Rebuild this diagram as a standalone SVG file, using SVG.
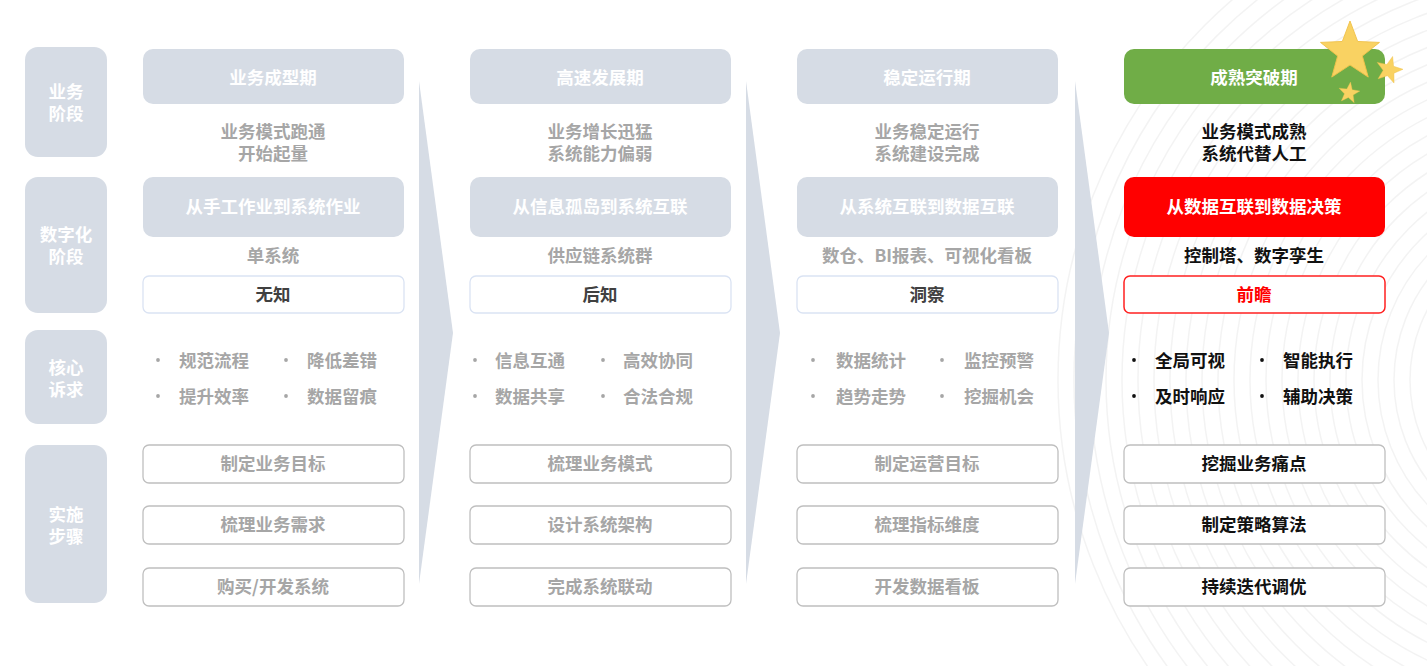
<svg xmlns="http://www.w3.org/2000/svg" width="1427" height="666" viewBox="0 0 1427 666">
<style>
text{font-family:"Noto Sans CJK SC","Noto Sans",sans-serif;font-weight:bold;font-size:17.5px;text-anchor:middle;dominant-baseline:central}
.lbl{fill:#d6dce5}
.lt{fill:#ffffff}
.hd{fill:#d6dce5}
.ht{fill:#ffffff}
.gt{fill:#a6a6a6}
.dk{fill:#404040}
.bk{fill:#111111}
.ob{fill:#ffffff;stroke:#dae3f3;stroke-width:1.3}
.sb{fill:#ffffff;stroke:#bfbfbf;stroke-width:1.3}
.bl{text-anchor:start}
.chev{fill:#d6dce5}
.arc{fill:none;stroke:#f0f0f0;stroke-width:1.5}
.star{fill:#f9d262;stroke:#f0c24a;stroke-width:0.3}
</style>
<defs>
<clipPath id="bgclip"><rect x="1040" y="0" width="387" height="666"/></clipPath>
<polygon id="starshape" points="0,-10 2.47,-3.4 9.51,-3.09 3.99,1.3 5.88,8.09 0,4.2 -5.88,8.09 -3.99,1.3 -9.51,-3.09 -2.47,-3.4"/>
</defs>
<rect width="1427" height="666" fill="#ffffff"/>
<g id="background" clip-path="url(#bgclip)" opacity="0.75">
<circle class="arc" cx="1560" cy="380" r="150"/>
<circle class="arc" cx="1560" cy="380" r="166"/>
<circle class="arc" cx="1560" cy="380" r="182"/>
<circle class="arc" cx="1560" cy="380" r="198"/>
<circle class="arc" cx="1560" cy="380" r="214"/>
<circle class="arc" cx="1560" cy="380" r="230"/>
<circle class="arc" cx="1560" cy="380" r="246"/>
<circle class="arc" cx="1560" cy="380" r="262"/>
<circle class="arc" cx="1560" cy="380" r="278"/>
<circle class="arc" cx="1560" cy="380" r="294"/>
<circle class="arc" cx="1560" cy="380" r="310"/>
<circle class="arc" cx="1560" cy="380" r="326"/>
<circle class="arc" cx="1560" cy="380" r="342"/>
<circle class="arc" cx="1560" cy="380" r="358"/>
<circle class="arc" cx="1560" cy="380" r="374"/>
<circle class="arc" cx="1560" cy="380" r="390"/>
<circle class="arc" cx="1560" cy="380" r="406"/>
<circle class="arc" cx="1560" cy="380" r="422"/>
<circle class="arc" cx="1560" cy="380" r="438"/>
<circle class="arc" cx="1560" cy="380" r="454"/>
<circle class="arc" cx="1560" cy="380" r="470"/>
<circle class="arc" cx="1560" cy="380" r="486"/>
<circle class="arc" cx="1560" cy="380" r="502"/>
</g>

<g id="row-labels">
<g id="label-business"><rect class="lbl" x="25" y="47" width="82" height="110" rx="13"/><text class="lt"><tspan x="66" y="90">业务</tspan><tspan x="66" y="112">阶段</tspan></text></g>
<g id="label-digital"><rect class="lbl" x="25" y="177" width="82" height="136" rx="13"/><text class="lt"><tspan x="66" y="233">数字化</tspan><tspan x="66" y="255">阶段</tspan></text></g>
<g id="label-core"><rect class="lbl" x="25" y="330" width="82" height="94" rx="13"/><text class="lt"><tspan x="66" y="366">核心</tspan><tspan x="66" y="388">诉求</tspan></text></g>
<g id="label-steps"><rect class="lbl" x="25" y="445" width="82" height="158" rx="13"/><text class="lt"><tspan x="66" y="513">实施</tspan><tspan x="66" y="535">步骤</tspan></text></g>
</g>

<g id="connectors">
<polygon class="chev" points="419,81 453,333 419,584"/>
<polygon class="chev" points="746,81 780,333 746,584"/>
<polygon class="chev" points="1075,81 1109,333 1075,584"/>
</g>

<g id="col1">
<rect class="hd" x="143" y="49" width="261" height="55" rx="10"/><text class="ht" x="273" y="76">业务成型期</text>
<text class="gt"><tspan x="273" y="129.5">业务模式跑通</tspan><tspan x="273" y="151.5">开始起量</tspan></text>
<rect class="hd" x="143" y="177" width="261" height="60" rx="10"/><text class="ht" x="273" y="205.5">从手工作业到系统作业</text>
<text class="gt" x="273" y="254.5">单系统</text>
<rect class="ob" x="143" y="276" width="261" height="37" rx="6"/><text class="dk" x="273" y="293.5">无知</text>
<circle cx="158" cy="360" r="1.9" fill="#a6a6a6"/><text class="gt bl" x="179" y="359.5">规范流程</text>
<circle cx="286" cy="360" r="1.9" fill="#a6a6a6"/><text class="gt bl" x="307" y="359.5">降低差错</text>
<circle cx="158" cy="396" r="1.9" fill="#a6a6a6"/><text class="gt bl" x="179" y="395.5">提升效率</text>
<circle cx="286" cy="396" r="1.9" fill="#a6a6a6"/><text class="gt bl" x="307" y="395.5">数据留痕</text>
<rect class="sb" x="143" y="445" width="261" height="38" rx="6"/><text class="gt" x="273" y="462.5">制定业务目标</text>
<rect class="sb" x="143" y="506" width="261" height="38" rx="6"/><text class="gt" x="273" y="523.5">梳理业务需求</text>
<rect class="sb" x="143" y="568" width="261" height="38" rx="6"/><text class="gt" x="273" y="585.5">购买/开发系统</text>
</g>

<g id="col2">
<rect class="hd" x="470" y="49" width="261" height="55" rx="10"/><text class="ht" x="600" y="76">高速发展期</text>
<text class="gt"><tspan x="600" y="129.5">业务增长迅猛</tspan><tspan x="600" y="151.5">系统能力偏弱</tspan></text>
<rect class="hd" x="470" y="177" width="261" height="60" rx="10"/><text class="ht" x="600" y="205.5">从信息孤岛到系统互联</text>
<text class="gt" x="600" y="254.5">供应链系统群</text>
<rect class="ob" x="470" y="276" width="261" height="37" rx="6"/><text class="dk" x="600" y="293.5">后知</text>
<circle cx="475" cy="360" r="1.9" fill="#a6a6a6"/><text class="gt bl" x="495" y="359.5">信息互通</text>
<circle cx="603" cy="360" r="1.9" fill="#a6a6a6"/><text class="gt bl" x="623" y="359.5">高效协同</text>
<circle cx="475" cy="396" r="1.9" fill="#a6a6a6"/><text class="gt bl" x="495" y="395.5">数据共享</text>
<circle cx="603" cy="396" r="1.9" fill="#a6a6a6"/><text class="gt bl" x="623" y="395.5">合法合规</text>
<rect class="sb" x="470" y="445" width="261" height="38" rx="6"/><text class="gt" x="600" y="462.5">梳理业务模式</text>
<rect class="sb" x="470" y="506" width="261" height="38" rx="6"/><text class="gt" x="600" y="523.5">设计系统架构</text>
<rect class="sb" x="470" y="568" width="261" height="38" rx="6"/><text class="gt" x="600" y="585.5">完成系统联动</text>
</g>

<g id="col3">
<rect class="hd" x="797" y="49" width="261" height="55" rx="10"/><text class="ht" x="927" y="76">稳定运行期</text>
<text class="gt"><tspan x="927" y="129.5">业务稳定运行</tspan><tspan x="927" y="151.5">系统建设完成</tspan></text>
<rect class="hd" x="797" y="177" width="261" height="60" rx="10"/><text class="ht" x="927" y="205.5">从系统互联到数据互联</text>
<text class="gt" x="927" y="254.5">数仓、BI报表、可视化看板</text>
<rect class="ob" x="797" y="276" width="261" height="37" rx="6"/><text class="dk" x="927" y="293.5">洞察</text>
<circle cx="813" cy="360" r="1.9" fill="#a6a6a6"/><text class="gt bl" x="836" y="359.5">数据统计</text>
<circle cx="942" cy="360" r="1.9" fill="#a6a6a6"/><text class="gt bl" x="964" y="359.5">监控预警</text>
<circle cx="813" cy="396" r="1.9" fill="#a6a6a6"/><text class="gt bl" x="836" y="395.5">趋势走势</text>
<circle cx="942" cy="396" r="1.9" fill="#a6a6a6"/><text class="gt bl" x="964" y="395.5">挖掘机会</text>
<rect class="sb" x="797" y="445" width="261" height="38" rx="6"/><text class="gt" x="927" y="462.5">制定运营目标</text>
<rect class="sb" x="797" y="506" width="261" height="38" rx="6"/><text class="gt" x="927" y="523.5">梳理指标维度</text>
<rect class="sb" x="797" y="568" width="261" height="38" rx="6"/><text class="gt" x="927" y="585.5">开发数据看板</text>
</g>

<g id="col4">
<rect x="1124" y="49" width="261" height="55" rx="10" fill="#70ad47"/><text class="ht" x="1254" y="76">成熟突破期</text>
<text class="bk"><tspan x="1254" y="129.5">业务模式成熟</tspan><tspan x="1254" y="151.5">系统代替人工</tspan></text>
<rect x="1124" y="177" width="261" height="60" rx="10" fill="#ff0000"/><text class="ht" x="1254" y="205.5">从数据互联到数据决策</text>
<text class="bk" x="1254" y="254.5">控制塔、数字孪生</text>
<rect x="1124" y="276" width="261" height="37" rx="6" fill="#ffffff" stroke="#ff2020" stroke-width="1.5"/><text x="1254" y="293.5" fill="#ff0000">前瞻</text>
<circle cx="1134" cy="360" r="1.9" fill="#111111"/><text class="bk bl" x="1155" y="359.5">全局可视</text>
<circle cx="1262" cy="360" r="1.9" fill="#111111"/><text class="bk bl" x="1283" y="359.5">智能执行</text>
<circle cx="1134" cy="396" r="1.9" fill="#111111"/><text class="bk bl" x="1155" y="395.5">及时响应</text>
<circle cx="1262" cy="396" r="1.9" fill="#111111"/><text class="bk bl" x="1283" y="395.5">辅助决策</text>
<rect class="sb" x="1124" y="445" width="261" height="38" rx="6"/><text class="bk" x="1254" y="462.5">挖掘业务痛点</text>
<rect class="sb" x="1124" y="506" width="261" height="38" rx="6"/><text class="bk" x="1254" y="523.5">制定策略算法</text>
<rect class="sb" x="1124" y="568" width="261" height="38" rx="6"/><text class="bk" x="1254" y="585.5">持续迭代调优</text>
</g>

<g id="stars">
<use href="#starshape" class="star" transform="translate(1350,52) scale(3.1)"/>
<use href="#starshape" class="star" transform="translate(1389,70) rotate(15) scale(1.4)"/>
<use href="#starshape" class="star" transform="translate(1349,93) rotate(8) scale(1.1)"/>
</g>
</svg>
